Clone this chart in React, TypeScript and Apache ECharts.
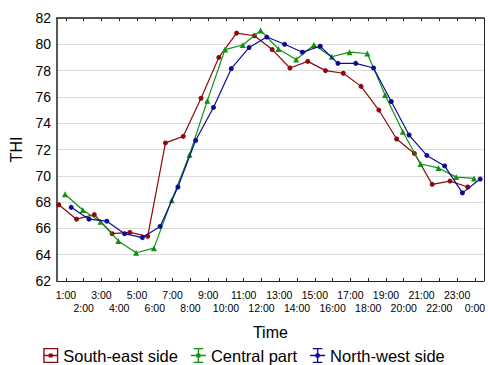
import React, { useEffect, useRef } from "react";
import * as echarts from "echarts";

const hours = [
  "1:00", "2:00", "3:00", "4:00", "5:00", "6:00", "7:00", "8:00",
  "9:00", "10:00", "11:00", "12:00", "13:00", "14:00", "15:00", "16:00",
  "17:00", "18:00", "19:00", "20:00", "21:00", "22:00", "23:00", "0:00",
];

const southEast = [
  67.8, 66.7, 67.05, 65.6, 65.7, 65.4, 72.5, 73.0, 75.9, 79.0, 80.85, 80.65,
  79.6, 78.2, 78.7, 78.0, 77.8, 76.8, 75.0, 72.8, 71.7, 69.35, 69.6, 69.15,
];
const central = [
  68.6, 67.4, 66.5, 65.05, 64.15, 64.5, 68.15, 71.6, 75.7, 79.6, 79.95, 81.05,
  79.65, 78.85, 79.95, 79.05, 79.4, 79.3, 76.15, 73.35, 70.9, 70.6, 69.9, 69.8,
];
const northWest = [
  67.6, 66.7, 66.55, 65.6, 65.3, 66.15, 69.15, 72.7, 75.2, 78.15, 79.75, 80.55,
  80.0, 79.4, 79.85, 78.55, 78.55, 78.2, 75.65, 73.1, 71.55, 70.75, 68.7, 69.75,
];

const seriesNames = ["South-east side", "Central part", "North-west side"];
const yTicks = { min: 62, max: 82, interval: 2 };

const BOX_ICON =
  "path://M0,0H11V1H0Z M0,10H11V11H0Z M0,0H1V11H0Z M10,0H11V11H10Z M0,5H11V6H0Z M4,4H7V7H4Z";
const BEAM_ICON =
  "path://M2,0H9V1H2Z M2,10H9V11H2Z M5,0H6V11H5Z M0,5H11V6H0Z M4,4H7V7H4Z";

export default function App() {
  const ref = useRef<HTMLDivElement>(null);

  useEffect(() => {
    if (!ref.current) return;
    const chart = echarts.init(ref.current, null, { renderer: "svg" });
    const font = "Liberation Sans, Arial, sans-serif";
    const colors = ["#8c0a0a", "#119111", "#0c0c94"];
    const symbols = ["circle", "triangle", "circle"];
    const offsets = [-0.4, -0.05, 0.3];
    const values = [southEast, central, northWest];

    chart.setOption({
      animation: false,
      backgroundColor: "#ffffff",
      textStyle: { fontFamily: font },
      grid: { left: 54, right: 3, top: 18, bottom: 84, containLabel: false },
      legend: {
        left: "center",
        top: 342,
        padding: 5,
        itemWidth: 15,
        itemHeight: 15,
        itemGap: 13,
        textStyle: { fontSize: 16.5, color: "#000", fontFamily: font },
        data: seriesNames.map((n, i) => ({
          name: n,
          icon: i === 0 ? BOX_ICON : BEAM_ICON,
          itemStyle: { color: colors[i] },
        })),
      },
      xAxis: [
        {
          type: "category",
          position: "bottom",
          data: hours,
          boundaryGap: true,
          name: "Time",
          nameLocation: "middle",
          nameGap: 43,
          nameTextStyle: { fontSize: 16, color: "#000", fontFamily: font },
          axisLine: { show: true, lineStyle: { color: "#222", width: 1 } },
          axisTick: { show: true, inside: true, length: 3, alignWithLabel: true, interval: 0, lineStyle: { color: "#222" } },
          axisLabel: {
            interval: 0,
            fontSize: 10.5,
            color: "#000",
            fontFamily: font,
            margin: 7,
            lineHeight: 13,
            formatter: (v: string, idx: number) => (idx % 2 === 0 ? v : "\n" + v),
          },
          splitLine: { show: false },
        },
        {
          type: "category",
          position: "top",
          data: hours,
          boundaryGap: true,
          axisLine: { show: true, lineStyle: { color: "#222", width: 1.5 } },
          axisTick: { show: true, inside: true, length: 3, alignWithLabel: true, interval: 0, lineStyle: { color: "#222" } },
          axisLabel: { show: false },
          splitLine: { show: false },
        },
        {
          type: "value",
          min: 0.5,
          max: 24.5,
          show: false,
          splitLine: { show: false },
        },
      ],
      yAxis: [
        {
          type: "value",
          position: "left",
          min: yTicks.min,
          max: yTicks.max,
          interval: yTicks.interval,
          name: "THI",
          nameLocation: "middle",
          nameGap: 33,
          nameTextStyle: { fontSize: 16, color: "#000", fontFamily: font },
          axisLine: { show: true, lineStyle: { color: "#222", width: 1.5 } },
          axisTick: { show: false },
          axisLabel: { fontSize: 14, color: "#000", fontFamily: font, margin: 6 },
          splitLine: { show: true, lineStyle: { color: "#dadada", width: 1.2 } },
        },
        {
          type: "value",
          position: "right",
          min: yTicks.min,
          max: yTicks.max,
          interval: yTicks.interval,
          axisLine: { show: true, lineStyle: { color: "#222", width: 1 } },
          axisTick: { show: false },
          axisLabel: { show: false },
          splitLine: { show: false },
        },
      ],
      series: seriesNames.map((name, s) => ({
        name,
        type: "line",
        xAxisIndex: 2,
        yAxisIndex: 0,
        data: values[s].map((v, i) => [i + 1 + offsets[s], v]),
        symbol: symbols[s],
        symbolSize: s === 1 ? 6 : 5,
        showSymbol: true,
        lineStyle: { color: colors[s], width: 1.2 },
        itemStyle: { color: colors[s] },
        z: 2 + s,
      })),
    });

    return () => chart.dispose();
  }, []);

  return (
    <div
      ref={ref}
      style={{ position: "fixed", left: 0, top: 0, width: 488, height: 365 }}
    />
  );
}
